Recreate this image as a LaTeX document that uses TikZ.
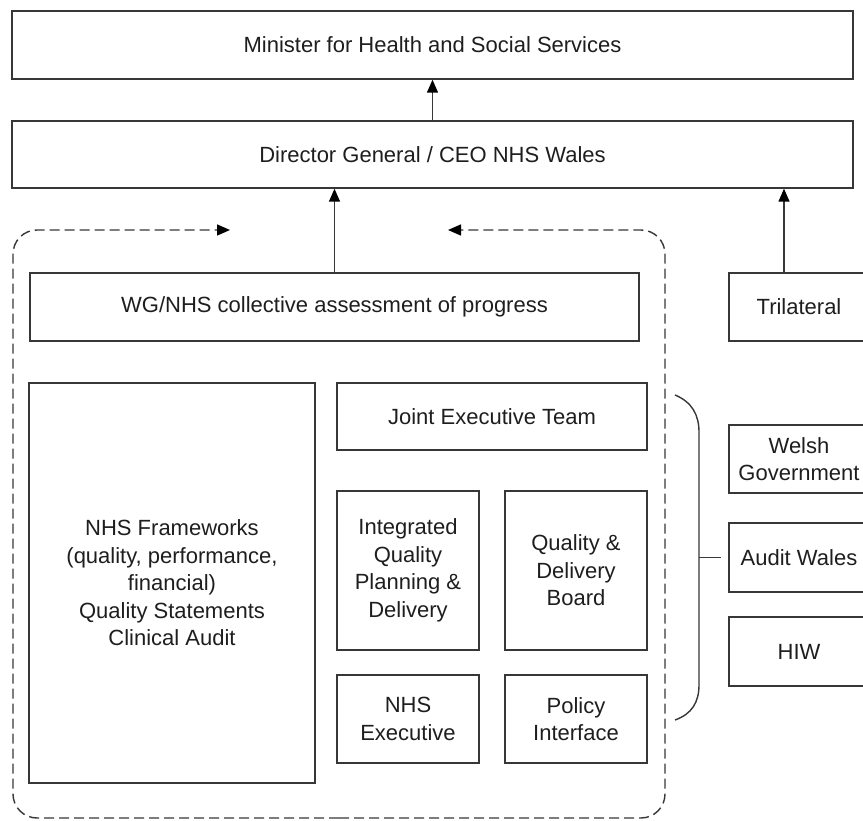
\documentclass[tikz,border=0pt]{standalone}
\usepackage{fontspec}
\setmainfont{Liberation Sans}
\usetikzlibrary{arrows.meta}
\definecolor{linegray}{RGB}{55,55,55}
\definecolor{textgray}{RGB}{30,30,30}

\begin{document}
\begin{tikzpicture}[x=1pt,y=-1pt,
  box/.style={draw=linegray,line width=1.4pt,text=textgray,align=center,
    font=\fontsize{22}{27.5}\selectfont,inner sep=0pt},
  link/.style={draw=linegray,line width=1.4pt,-{Triangle[length=13pt,width=11pt,color=black]}},
  dashlink/.style={link,dash pattern=on 10pt off 5pt,rounded corners=24pt}]
  \clip (0,0) rectangle (863,821);
  \node[box,minimum width=841pt,minimum height=68pt] (minister) at (432.5,45) {Minister for Health and Social Services};
  \node[box,minimum width=841pt,minimum height=67pt] (director) at (432.5,154.5) {Director General / CEO NHS Wales};
  \node[box,minimum width=609pt,minimum height=68pt] (wg) at (334.5,307) {WG/NHS collective assessment of progress};
  \node[box,minimum width=140pt,minimum height=68pt] (trilateral) at (799,307) {Trilateral};
  \node[box,minimum width=286pt,minimum height=400pt] (frameworks) at (172,583)
    {NHS Frameworks\\(quality, performance,\\financial)\\Quality Statements\\Clinical Audit};
  \node[box,minimum width=310pt,minimum height=67pt] (jet) at (492,416.5) {Joint Executive Team};
  \node[box,minimum width=142pt,minimum height=159pt] (iqpd) at (408,570.5) {Integrated\\Quality\\Planning \&\\Delivery};
  \node[box,minimum width=142pt,minimum height=159pt] (qdb) at (576,570.5) {Quality \&\\Delivery\\Board};
  \node[box,minimum width=142pt,minimum height=88pt] (nhsexec) at (408,719) {NHS\\Executive};
  \node[box,minimum width=142pt,minimum height=88pt] (policy) at (576,719) {Policy\\Interface};
  \node[box,minimum width=140pt,minimum height=68pt] (welsh) at (799,459) {Welsh\\Government};
  \node[box,minimum width=140pt,minimum height=69pt] (audit) at (799,557.5) {Audit Wales};
  \node[box,minimum width=140pt,minimum height=69pt] (hiw) at (799,651.5) {HIW};

  \draw[link] (director.north) -- (minister.south);
  \draw[link] (wg.north) -- (wg.north |- director.south);
  \coordinate (triup) at ([xshift=-15pt]trilateral.north);
  \draw[link] (triup) -- (triup |- director.south);

  \coordinate (loopL) at (230,230);
  \coordinate (loopR) at (448,230);
  \draw[dashlink] (339,818) -- (13,818) -- (13,230) -- (loopL);
  \draw[dashlink] (339,818) -- (665,818) -- (665,230) -- (loopR);

  \coordinate (bracemid) at (699,557.5);
  \draw[linegray,line width=1.4pt] (675,395) .. controls (692,402) and (699,415) .. (699,432)
    -- (699,685) .. controls (699,702) and (692,714) .. (675,720);
  \draw[linegray,line width=1.4pt] (bracemid) -- ([xshift=-7pt]audit.west);
\end{tikzpicture}
\end{document}
